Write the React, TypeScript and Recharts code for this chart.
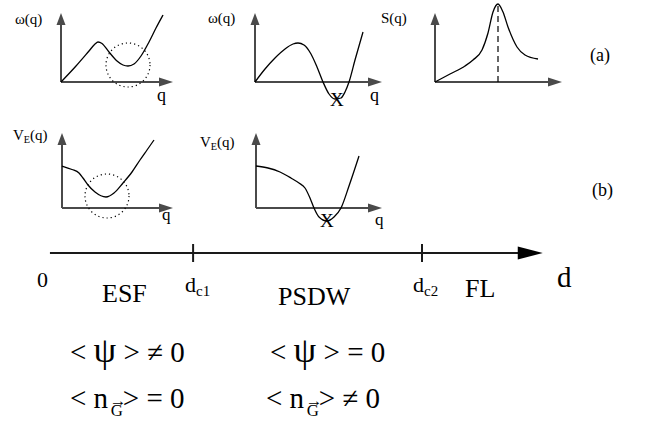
import React from "react";
import { LineChart, Line, XAxis, YAxis, ReferenceLine, ReferenceDot } from "recharts";

// 1 data unit = 10px in every small panel
const UNIT = 10;
const AXIS = "#4a4a4a";
const SERIF = '"Liberation Serif", "DejaVu Serif", serif';

// (a) row: dispersion and structure factor
const esfDispersion = [
  { q: 0, v: 0 }, { q: 1.5, v: 1.6 }, { q: 2.8, v: 3.1 }, { q: 3.4, v: 3.8 },
  { q: 3.7, v: 4.0 }, { q: 4.1, v: 3.85 }, { q: 4.8, v: 3.0 }, { q: 5.6, v: 2.1 },
  { q: 6.2, v: 1.7 }, { q: 6.7, v: 1.6 }, { q: 7.3, v: 1.8 }, { q: 8.0, v: 2.6 },
  { q: 8.8, v: 4.0 }, { q: 9.5, v: 5.4 }, { q: 10.2, v: 6.7 },
];
const psdwDispersion = [
  { q: 0, v: 0 }, { q: 1, v: 1.3 }, { q: 2, v: 2.4 }, { q: 3, v: 3.3 },
  { q: 3.8, v: 3.8 }, { q: 4.3, v: 3.9 }, { q: 4.9, v: 3.7 }, { q: 5.6, v: 2.8 },
  { q: 6.2, v: 1.5 }, { q: 6.8, v: 0 }, { q: 7.4, v: -1.2 }, { q: 8.0, v: -1.7 },
  { q: 8.6, v: -1.6 }, { q: 9.0, v: -1.0 }, { q: 9.4, v: 0 }, { q: 10.0, v: 2.2 },
  { q: 10.8, v: 5.0 },
];
const structureFactor = [
  { q: 0, v: 0 }, { q: 1.5, v: 0.8 }, { q: 3.0, v: 1.6 }, { q: 3.8, v: 2.2 },
  { q: 4.7, v: 3.2 }, { q: 5.3, v: 4.9 }, { q: 5.8, v: 7.0 }, { q: 6.3, v: 7.8 },
  { q: 6.8, v: 7.0 }, { q: 7.3, v: 5.5 }, { q: 8.2, v: 3.5 }, { q: 9.0, v: 2.7 },
  { q: 10.3, v: 2.3 },
];
const sqPeak = 6.3;

// (b) row: effective potential
const esfPotential = [
  { q: 0, v: 4.2 }, { q: 1.0, v: 3.85 }, { q: 1.7, v: 3.5 }, { q: 2.1, v: 3.0 },
  { q: 2.6, v: 2.3 }, { q: 3.3, v: 1.6 }, { q: 4.4, v: 1.1 }, { q: 5.2, v: 1.5 },
  { q: 6.1, v: 2.5 }, { q: 7.0, v: 3.6 }, { q: 7.8, v: 4.8 }, { q: 8.5, v: 5.8 },
  { q: 9.2, v: 6.8 },
];
const psdwPotential = [
  { q: 0, v: 4.2 }, { q: 1.2, v: 4.0 }, { q: 2.4, v: 3.6 }, { q: 3.5, v: 3.0 },
  { q: 4.3, v: 2.5 }, { q: 4.9, v: 2.0 }, { q: 5.4, v: 1.0 }, { q: 5.8, v: 0 },
  { q: 6.3, v: -0.9 }, { q: 7.1, v: -1.3 }, { q: 7.8, v: -0.9 }, { q: 8.5, v: 0 },
  { q: 9.3, v: 2.2 }, { q: 10.3, v: 5.2 },
];

// phase line
const phaseBoundaries = [3.0, 7.7];
const dAxisEnd = 10.18;
const D_UNIT = 48.7;

type Pt = { q: number; v: number };

function arrowHead(dir: "right" | "up", len: number, half: number, color: string) {
  return (props: any) => {
    const { cx, cy } = props;
    const pts =
      dir === "right"
        ? `${cx},${cy} ${cx - len},${cy - half} ${cx - len},${cy + half}`
        : `${cx},${cy} ${cx - half},${cy + len} ${cx + half},${cy + len}`;
    return <polygon points={pts} fill={color} stroke="none" />;
  };
}

interface PanelProps {
  data: Pt[];
  ox: number;
  oy: number;
  xDomain: [number, number];
  yDomain: [number, number];
  xTip: number;
  yTip: number;
  circle?: { q: number; v: number };
  peak?: { q: number; v: number };
}

function Panel({ data, ox, oy, xDomain, yDomain, xTip, yTip, circle, peak }: PanelProps) {
  const width = (xDomain[1] - xDomain[0]) * UNIT;
  const height = (yDomain[1] - yDomain[0]) * UNIT;
  const left = ox + xDomain[0] * UNIT;
  const top = oy - yDomain[1] * UNIT;
  return (
    <div style={{ position: "absolute", left, top, width, height }}>
      <LineChart width={width} height={height} data={data} margin={{ top: 0, right: 0, bottom: 0, left: 0 }}>
        <XAxis type="number" dataKey="q" domain={xDomain} hide allowDataOverflow />
        <YAxis type="number" domain={yDomain} hide allowDataOverflow />
        <ReferenceLine segment={[{ x: 0, y: 0 }, { x: xTip - 1, y: 0 }]} stroke={AXIS} strokeWidth={2} ifOverflow="visible" />
        <ReferenceLine segment={[{ x: 0, y: 0 }, { x: 0, y: yTip - 1 }]} stroke={AXIS} strokeWidth={2} ifOverflow="visible" />
        <ReferenceDot x={xTip} y={0} r={1} ifOverflow="visible" shape={arrowHead("right", 14, 4.5, AXIS)} />
        <ReferenceDot x={0} y={yTip} r={1} ifOverflow="visible" shape={arrowHead("up", 12, 4.5, AXIS)} />
        {peak && (
          <ReferenceLine
            segment={[{ x: peak.q, y: 0 }, { x: peak.q, y: peak.v }]}
            stroke="#000"
            strokeWidth={1.2}
            strokeDasharray="6 4"
            ifOverflow="visible"
          />
        )}
        {circle && (
          <ReferenceDot
            x={circle.q}
            y={circle.v}
            r={22}
            fill="none"
            stroke="#000"
            strokeWidth={1.2}
            strokeDasharray="1.2 3"
            ifOverflow="visible"
          />
        )}
        <Line type="monotone" dataKey="v" stroke="#000" strokeWidth={1.3} dot={false} isAnimationActive={false} />
      </LineChart>
    </div>
  );
}

function Txt({ x, base, size, children }: { x: number; base: number; size: number; children: React.ReactNode }) {
  return (
    <div
      style={{
        position: "absolute",
        left: x,
        top: base - 0.837 * size,
        fontSize: size,
        lineHeight: 1,
        whiteSpace: "nowrap",
        color: "#000",
      }}
    >
      {children}
    </div>
  );
}

function Sub({ children }: { children: React.ReactNode }) {
  return <span style={{ fontSize: "0.68em", position: "relative", top: "0.3em" }}>{children}</span>;
}

function Psi() {
  return <span style={{ fontSize: "1.25em", lineHeight: 0 }}>ψ</span>;
}

function VecG() {
  return (
    <span style={{ position: "relative", display: "inline-block", fontSize: "0.58em", top: "0.5em", marginLeft: "0.15em", lineHeight: 1 }}>
      G
      <span style={{ position: "absolute", left: "-0.05em", top: "-0.6em" }}>→</span>
    </span>
  );
}

function PhaseLine() {
  const left = 47;
  const width = 506;
  return (
    <div style={{ position: "absolute", left, top: 244, width, height: 18 }}>
      <LineChart width={width} height={18} data={[{ d: 0, y: 0 }]} margin={{ top: 0, right: 0, bottom: 0, left: 0 }}>
        <XAxis type="number" dataKey="d" domain={[0, width / D_UNIT]} hide allowDataOverflow />
        <YAxis type="number" domain={[-1, 1]} hide allowDataOverflow />
        <ReferenceLine segment={[{ x: 0, y: 0 }, { x: dAxisEnd - 0.4, y: 0 }]} stroke="#1a1a1a" strokeWidth={2} ifOverflow="visible" />
        {phaseBoundaries.map((d) => (
          <ReferenceLine key={d} segment={[{ x: d, y: -1 }, { x: d, y: 1 }]} stroke="#1a1a1a" strokeWidth={2} ifOverflow="visible" />
        ))}
        <ReferenceDot x={dAxisEnd} y={0} r={1} ifOverflow="visible" shape={arrowHead("right", 25, 6.5, "#000")} />
        <Line dataKey="y" stroke="none" dot={false} isAnimationActive={false} />
      </LineChart>
    </div>
  );
}

export default function App() {
  return (
    <div style={{ position: "absolute", left: 0, top: 0, width: 649, height: 426, background: "#fff", fontFamily: SERIF, overflow: "hidden" }}>
      <Panel data={esfDispersion} ox={61} oy={82} xDomain={[-1, 12]} yDomain={[-2.5, 7.5]} xTip={11.2} yTip={6.9} circle={{ q: 6.7, v: 1.7 }} />
      <Panel data={psdwDispersion} ox={255} oy={82} xDomain={[-1, 13.5]} yDomain={[-2.5, 7.5]} xTip={12.7} yTip={6.9} />
      <Panel data={structureFactor} ox={435} oy={82} xDomain={[-1, 13.5]} yDomain={[-2.5, 8.2]} xTip={12.7} yTip={6.9} peak={{ q: sqPeak, v: 7.8 }} />
      <Panel data={esfPotential} ox={62} oy={208} xDomain={[-1, 12]} yDomain={[-2.5, 8]} xTip={11.1} yTip={7.5} circle={{ q: 4.5, v: 1.2 }} />
      <Panel data={psdwPotential} ox={256} oy={208} xDomain={[-1, 13.5]} yDomain={[-2.5, 8]} xTip={12.6} yTip={7.5} />

      <Txt x={15} base={25} size={15}>ω(q)</Txt>
      <Txt x={157} base={101} size={18}>q</Txt>
      <Txt x={208} base={24} size={15}>ω(q)</Txt>
      <Txt x={370} base={101} size={18}>q</Txt>
      <Txt x={330} base={106} size={19}>X</Txt>
      <Txt x={381} base={24} size={15}>S(q)</Txt>
      <Txt x={590} base={61} size={18}>(a)</Txt>

      <Txt x={13} base={141} size={15}>V<Sub>E</Sub>(q)</Txt>
      <Txt x={162} base={220} size={17}>q</Txt>
      <Txt x={200} base={148} size={15}>V<Sub>E</Sub>(q)</Txt>
      <Txt x={375} base={225} size={17}>q</Txt>
      <Txt x={320} base={227} size={19}>X</Txt>
      <Txt x={592} base={196} size={18}>(b)</Txt>

      <PhaseLine />
      <Txt x={37} base={287} size={22}>0</Txt>
      <Txt x={102} base={303} size={26}>ESF</Txt>
      <Txt x={185} base={292} size={22}>d<Sub>c1</Sub></Txt>
      <Txt x={278} base={306} size={26}>PSDW</Txt>
      <Txt x={413} base={292} size={22}>d<Sub>c2</Sub></Txt>
      <Txt x={465} base={298} size={26}>FL</Txt>
      <Txt x={557} base={287} size={29}>d</Txt>

      <Txt x={70} base={362} size={29}>{"< "}<Psi />{" > ≠ 0"}</Txt>
      <Txt x={270} base={362} size={29}>{"< "}<Psi />{" > = 0"}</Txt>
      <Txt x={70} base={408} size={29}>{"< n"}<VecG />{"> = 0"}</Txt>
      <Txt x={266} base={408} size={29}>{"< n"}<VecG />{"> ≠ 0"}</Txt>
    </div>
  );
}
